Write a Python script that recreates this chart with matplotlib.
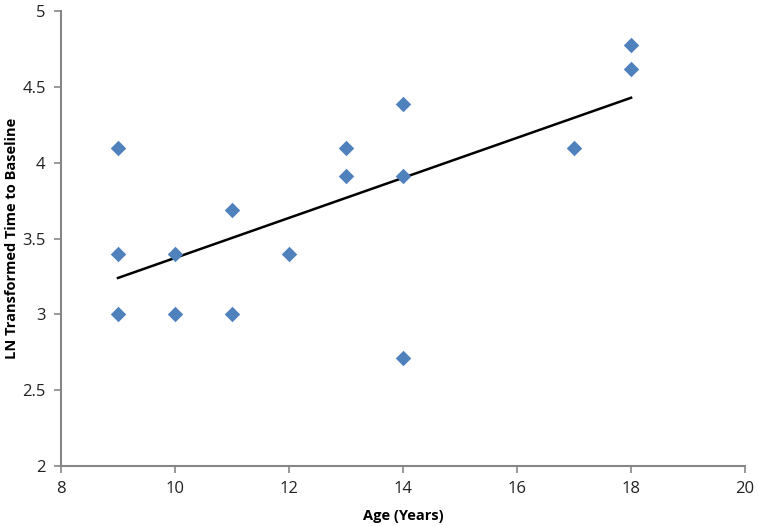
import numpy as np
import matplotlib
matplotlib.use('Agg')
import matplotlib.pyplot as plt

age = [9, 9, 9, 10, 10, 11, 11, 12, 13, 13, 14, 14, 14, 17, 18, 18]
ln_time = [4.1, 3.4, 3.0, 3.4, 3.0, 3.69, 3.0, 3.4, 4.1, 3.91, 4.385, 3.91, 2.71, 4.1, 4.775, 4.62]
x_ticks = [8, 10, 12, 14, 16, 18, 20]
y_ticks = [2, 2.5, 3, 3.5, 4, 4.5, 5]
y_tick_labels = ['2', '2.5', '3', '3.5', '4', '4.5', '5']

plt.rcParams['font.family'] = ['Open Sans', 'DejaVu Sans']
grey = '#868686'

fig = plt.figure(figsize=(7.58, 5.26), dpi=100)
ax = fig.add_axes([0.0805, 0.114, 0.9025, 0.865])

ax.scatter(age, ln_time, marker='D', s=62, color='#4F81BD', zorder=3, linewidths=0)

# linear trendline
slope, icpt = np.polyfit(age, ln_time, 1)
xs = np.array([min(age), max(age)])
ax.plot(xs, slope * xs + icpt, color='black', lw=1.8, zorder=2)

ax.set_xlim(8, 20)
ax.set_ylim(2, 5)
ax.set_xticks(x_ticks)
ax.set_yticks(y_ticks)
ax.set_yticklabels(y_tick_labels)

for s in ['top', 'right']:
    ax.spines[s].set_visible(False)
for s in ['left', 'bottom']:
    ax.spines[s].set_color(grey)
    ax.spines[s].set_linewidth(1.5)
ax.tick_params(direction='out', length=5, width=1.2, color=grey,
               labelsize=12, labelcolor='#222222', pad=6)

ax.set_xlabel('Age (Years)', fontsize=10.5, fontweight='bold')
ax.set_ylabel('LN Transformed Time to Baseline', fontsize=10.5, fontweight='bold')
ax.xaxis.set_label_coords(0.5, -0.095)
ax.yaxis.set_label_coords(-0.062, 0.5)

fig.savefig('out.png', dpi=100)
